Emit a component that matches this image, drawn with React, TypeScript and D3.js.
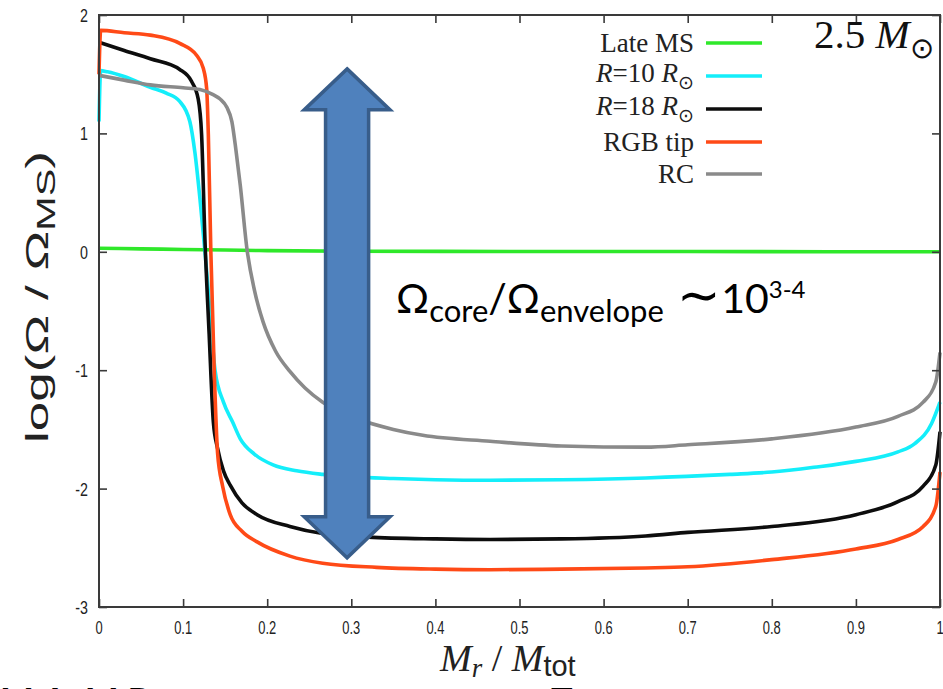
import React, { useEffect, useRef } from "react";
import * as d3 from "d3";

// series values (x = Mr/Mtot, y = log(Omega/Omega_MS))
const lateMsX = [0, 0.05, 0.1, 0.15, 0.2, 0.3, 0.5, 0.7, 1.0];
const lateMsY = [0.03, 0.025, 0.02, 0.015, 0.01, 0.005, 0.003, 0.002, 0.0];

const r10X = [0, 0.002, 0.01, 0.03, 0.061, 0.08, 0.096, 0.108, 0.114, 0.12, 0.126, 0.132, 0.138, 0.148, 0.159, 0.168, 0.185, 0.207, 0.235, 0.266, 0.3, 0.35, 0.4, 0.465, 0.55, 0.65, 0.75, 0.8, 0.85, 0.9, 0.95, 0.97, 0.99, 1.0];
const r10Y = [1.1, 1.53, 1.52, 1.48, 1.39, 1.34, 1.27, 1.1, 0.84, 0.45, 0.0, -0.5, -1.0, -1.27, -1.44, -1.58, -1.71, -1.8, -1.85, -1.88, -1.9, -1.915, -1.925, -1.93, -1.925, -1.91, -1.88, -1.86, -1.82, -1.77, -1.69, -1.62, -1.45, -1.27];

const r18X = [0, 0.03, 0.061, 0.096, 0.11, 0.118, 0.122, 0.126, 0.131, 0.136, 0.141, 0.148, 0.156, 0.17, 0.188, 0.227, 0.266, 0.32, 0.4, 0.465, 0.55, 0.65, 0.7, 0.8, 0.9, 0.95, 0.98, 0.995, 1.0];
const r18Y = [1.77, 1.7, 1.63, 1.54, 1.44, 1.29, 0.99, 0.1, -0.7, -1.44, -1.66, -1.85, -1.97, -2.12, -2.22, -2.32, -2.38, -2.41, -2.425, -2.43, -2.425, -2.4, -2.37, -2.32, -2.22, -2.11, -1.98, -1.8, -1.52];

const rgbX = [0, 0.002, 0.03, 0.061, 0.096, 0.116, 0.124, 0.128, 0.13, 0.133, 0.137, 0.141, 0.147, 0.156, 0.17, 0.188, 0.227, 0.266, 0.33, 0.4, 0.465, 0.55, 0.65, 0.7, 0.8, 0.9, 0.95, 0.98, 0.995, 1.0];
const rgbY = [1.5, 1.87, 1.85, 1.83, 1.76, 1.66, 1.55, 1.38, 0.99, 0.0, -1.0, -1.7, -1.98, -2.22, -2.36, -2.45, -2.57, -2.63, -2.665, -2.68, -2.685, -2.68, -2.67, -2.66, -2.6, -2.51, -2.43, -2.32, -2.15, -1.86];

const rcX = [0, 0.03, 0.061, 0.1, 0.12, 0.135, 0.144, 0.152, 0.158, 0.163, 0.168, 0.176, 0.185, 0.195, 0.21, 0.227, 0.245, 0.266, 0.307, 0.35, 0.385, 0.465, 0.55, 0.65, 0.7, 0.8, 0.9, 0.95, 0.98, 0.995, 1.0];
const rcY = [1.49, 1.45, 1.41, 1.385, 1.37, 1.33, 1.29, 1.22, 1.1, 0.85, 0.56, 0.02, -0.33, -0.59, -0.84, -1.01, -1.15, -1.27, -1.41, -1.5, -1.55, -1.6, -1.64, -1.65, -1.63, -1.58, -1.48, -1.39, -1.27, -1.1, -0.85];

const xTicks = [0, 0.1, 0.2, 0.3, 0.4, 0.5, 0.6, 0.7, 0.8, 0.9, 1];
const yTicks = [-3, -2, -1, 0, 1, 2];

// double arrow annotation, in data units
const arrowX = 0.295;
const arrowTop = 1.545;
const arrowBottom = -2.585;

const series = [
  { name: "Late MS", xs: lateMsX, ys: lateMsY, color: "#2fe82a" },
  { name: "R10", xs: r10X, ys: r10Y, color: "#14eefa" },
  { name: "R18", xs: r18X, ys: r18Y, color: "#0d0d0d" },
  { name: "RGB tip", xs: rgbX, ys: rgbY, color: "#ff4a17" },
  { name: "RC", xs: rcX, ys: rcY, color: "#8a8a8a" },
];

const App = () => {
  const ref = useRef(null);

  useEffect(() => {
    document.body.style.margin = "0";
    const width = 943;
    const height = 689;
    const left = 99, right = 940, top = 15, bottom = 607;

    const x = d3.scaleLinear().domain([0, 1]).range([left, right]);
    const y = d3.scaleLinear().domain([-3, 2]).range([bottom, top]);

    const svg = d3.select(ref.current);
    svg.selectAll("*").remove();
    svg.attr("width", width).attr("height", height).attr("viewBox", [0, 0, width, height]);
    svg.append("rect").attr("width", width).attr("height", height).attr("fill", "#fff");

    // curves
    const line = d3
      .line()
      .x((d) => x(d[0]))
      .y((d) => y(d[1]))
      .curve(d3.curveMonotoneX);

    const plot = svg.append("g");
    series.forEach((s) => {
      plot
        .append("path")
        .attr("d", line(s.xs.map((v, i) => [v, s.ys[i]])))
        .attr("fill", "none")
        .attr("stroke", s.color)
        .attr("stroke-width", 3.6)
        .attr("stroke-linejoin", "round");
    });

    // frame + inward ticks
    const frameColor = "#3a3a3a";
    const styleAxis = (g) => {
      g.select(".domain").remove();
      g.selectAll("line").attr("stroke", frameColor).attr("stroke-width", 1.6);
    };
    svg.append("g").attr("transform", `translate(0,${bottom})`)
      .call(d3.axisTop(x).tickValues(xTicks).tickSize(8).tickFormat(""))
      .call(styleAxis);
    svg.append("g").attr("transform", `translate(0,${top})`)
      .call(d3.axisBottom(x).tickValues(xTicks).tickSize(8).tickFormat(""))
      .call(styleAxis);
    svg.append("g").attr("transform", `translate(${left},0)`)
      .call(d3.axisRight(y).tickValues(yTicks).tickSize(8).tickFormat(""))
      .call(styleAxis);
    svg.append("g").attr("transform", `translate(${right},0)`)
      .call(d3.axisLeft(y).tickValues(yTicks).tickSize(8).tickFormat(""))
      .call(styleAxis);
    svg.append("rect")
      .attr("x", left).attr("y", top)
      .attr("width", right - left).attr("height", bottom - top)
      .attr("fill", "none").attr("stroke", frameColor).attr("stroke-width", 2);

    // tick labels (narrow sans)
    const tickFont = "'Liberation Sans', Arial, sans-serif";
    xTicks.forEach((t) => {
      svg.append("text")
        .attr("transform", `translate(${x(t)},${bottom + 27}) scale(0.68,1)`)
        .attr("text-anchor", "middle")
        .attr("font-family", tickFont)
        .attr("font-size", 19)
        .attr("fill", "#222")
        .text(String(t));
    });
    yTicks.forEach((t) => {
      svg.append("text")
        .attr("transform", `translate(${left - 11},${y(t) + 7}) scale(0.75,1)`)
        .attr("text-anchor", "end")
        .attr("font-family", tickFont)
        .attr("font-size", 19)
        .attr("fill", "#222")
        .text(String(t));
    });

    // y axis title
    const yt = svg.append("text")
      .attr("transform", `translate(48,${(top + bottom) / 2 - 14}) rotate(-90)`)
      .attr("text-anchor", "middle")
      .attr("font-family", tickFont)
      .attr("font-size", 32)
      .attr("fill", "#222");
    yt.append("tspan").text("log(Ω / Ω");
    yt.append("tspan").attr("font-size", 25).attr("dy", 7).text("MS");
    yt.append("tspan").attr("dy", -7).text(")");
    yt.attr("textLength", 292).attr("lengthAdjust", "spacingAndGlyphs");

    // x axis title
    const xt = svg.append("text")
      .attr("x", 440)
      .attr("y", 671)
      .attr("font-family", "'Liberation Serif', 'Times New Roman', serif")
      .attr("font-size", 38)
      .attr("fill", "#222");
    xt.append("tspan").attr("font-style", "italic").text("M");
    xt.append("tspan").attr("font-style", "italic").attr("font-size", 27).attr("dy", 6).text("r");
    xt.append("tspan").attr("dy", -6).text(" / ");
    xt.append("tspan").attr("font-style", "italic").text("M");
    xt.append("tspan").attr("font-family", tickFont).attr("font-size", 29).attr("dy", 5).text("tot");

    // legend
    const serif = "'Liberation Serif', 'Times New Roman', serif";
    const legendRows = [43, 76, 109, 142, 174];
    const legendLabels = [
      [["Late MS", ""]],
      [["R", "i"], ["=10 ", ""], ["R", "i"], ["⊙", "s"]],
      [["R", "i"], ["=18 ", ""], ["R", "i"], ["⊙", "s"]],
      [["RGB tip", ""]],
      [["RC", ""]],
    ];
    series.forEach((s, i) => {
      const ly = legendRows[i];
      svg.append("line")
        .attr("x1", 706).attr("x2", 762)
        .attr("y1", ly).attr("y2", ly)
        .attr("stroke", s.color).attr("stroke-width", 3.6);
      const txt = svg.append("text")
        .attr("x", 694)
        .attr("y", ly + 9)
        .attr("text-anchor", "end")
        .attr("font-family", serif)
        .attr("font-size", 27)
        .attr("fill", "#222");
      let shifted = false;
      legendLabels[i].forEach(([part, kind]) => {
        const ts = txt.append("tspan").text(part);
        if (kind === "i") ts.attr("font-style", "italic");
        if (kind === "s") {
          ts.attr("font-size", 19).attr("dy", 7);
          shifted = true;
        }
      });
      if (shifted) txt.attr("y", ly + 6);
    });

    // mass label
    const ml = svg.append("text")
      .attr("x", 814)
      .attr("y", 48)
      .attr("font-family", serif)
      .attr("font-size", 41)
      .attr("fill", "#111");
    ml.append("tspan").text("2.5 ");
    ml.append("tspan").attr("font-style", "italic").text("M");
    ml.append("tspan").attr("font-size", 29).attr("dy", 10).text("⊙");

    // double arrow
    const cx = x(arrowX);
    const yTop = y(arrowTop);
    const yBot = y(arrowBottom);
    const headHalf = x(0.051) - x(0);
    const shaftHalf = x(0.0256) - x(0);
    const headLen = 41;
    const pts = [
      [cx, yTop],
      [cx + headHalf, yTop + headLen],
      [cx + shaftHalf, yTop + headLen],
      [cx + shaftHalf, yBot - headLen],
      [cx + headHalf, yBot - headLen],
      [cx, yBot],
      [cx - headHalf, yBot - headLen],
      [cx - shaftHalf, yBot - headLen],
      [cx - shaftHalf, yTop + headLen],
      [cx - headHalf, yTop + headLen],
    ];
    svg.append("path")
      .attr("d", d3.line()(pts) + "Z")
      .attr("fill", "#4f81bd")
      .attr("stroke", "#385d8a")
      .attr("stroke-width", 3.5)
      .attr("stroke-linejoin", "miter");

    // ratio annotation
    const sans = "Lato, 'Open Sans', sans-serif";
    const an = svg.append("text")
      .attr("x", 396)
      .attr("y", 313)
      .attr("font-family", sans)
      .attr("font-size", 41)
      .attr("fill", "#000");
    an.append("tspan").text("Ω");
    an.append("tspan").attr("font-size", 31).attr("dy", 9).text("core");
    an.append("tspan").attr("dy", -9).text("/Ω");
    an.append("tspan").attr("font-size", 31).attr("dy", 9).text("envelope");
    an.append("tspan").attr("dy", -9).attr("font-size", 52).text(" ∼");
    an.append("tspan").text("10");
    an.append("tspan").attr("font-size", 24).attr("dy", -15).text("3-4");

    // cut-off text line at the very bottom
    svg.append("text")
      .attr("x", 0).attr("y", 714)
      .attr("font-family", sans).attr("font-weight", "bold")
      .attr("font-size", 36).attr("fill", "#000")
      .text("M.A. M.P.");
    svg.append("text")
      .attr("x", 551).attr("y", 714)
      .attr("font-family", sans).attr("font-weight", "bold")
      .attr("font-size", 36).attr("fill", "#000")
      .text("T");
  }, []);

  return <svg ref={ref} style={{ display: "block" }}></svg>;
};

export default App;
